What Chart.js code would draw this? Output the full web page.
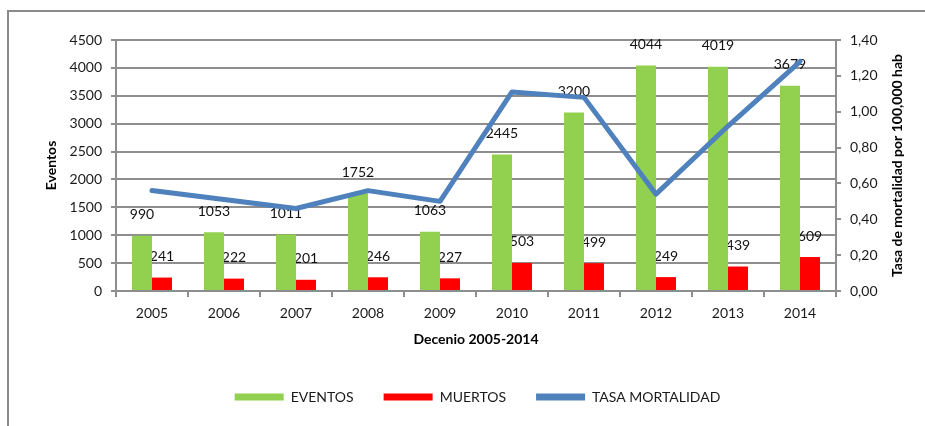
<!DOCTYPE html>
<html>
<head>
<meta charset="utf-8">
<script src="https://cdn.jsdelivr.net/npm/chart.js@4/dist/chart.umd.min.js"></script>
<style>
  html, body { margin: 0; padding: 0; background: #fff; }
  #wrap { position: relative; width: 925px; height: 426px; overflow: hidden; }
  #frame { position: absolute; left: 7px; top: 10px; width: 940px; height: 440px;
           border-left: 2px solid #8a8a8a; border-top: 2px solid #8a8a8a; }
  #chart { position: absolute; left: 0; top: 0; }
</style>
</head>
<body>
<div id="wrap">
  <div id="frame"></div>
  <canvas id="chart" width="925" height="426"></canvas>
</div>
<script>
const years = ['2005', '2006', '2007', '2008', '2009', '2010', '2011', '2012', '2013', '2014'];
const eventos = [990, 1053, 1011, 1752, 1063, 2445, 3200, 4044, 4019, 3679];
const muertos = [241, 222, 201, 246, 227, 503, 499, 249, 439, 609];
const tasa = [0.56, 0.51, 0.46, 0.56, 0.50, 1.11, 1.08, 0.54, 0.92, 1.28];

const GRID = '#8e8e8e';
Chart.defaults.font.family = 'Lato';
Chart.defaults.color = '#1a1a1a';

// value labels above the bars (drawn before the line so it passes over them)
const barLabels = {
    id: 'barLabels',
    afterDatasetDraw(chart, args) {
        const meta = args.meta;
        if (meta.type !== 'bar') return;
        const ctx = chart.ctx;
        const values = chart.data.datasets[args.index].data;
        ctx.save();
        ctx.font = '14px Lato';
        ctx.fillStyle = '#111';
        ctx.textAlign = 'center';
        ctx.textBaseline = 'middle';
        meta.data.forEach((bar, i) => {
            ctx.fillText(String(values[i]), bar.x, bar.y - 21);
        });
        ctx.restore();
    }
};

// right axis title reads bottom-to-top like the original
const rightTitle = {
    id: 'rightTitle',
    afterDraw(chart) {
        const ctx = chart.ctx;
        const area = chart.chartArea;
        ctx.save();
        ctx.translate(897, (area.top + area.bottom) / 2);
        ctx.rotate(-Math.PI / 2);
        ctx.font = 'bold 14px Lato';
        ctx.fillStyle = '#000';
        ctx.textAlign = 'center';
        ctx.textBaseline = 'middle';
        ctx.fillText('Tasa de mortalidad por 100,000 hab', 0, 0);
        ctx.restore();
    }
};

new Chart(document.getElementById('chart'), {
    type: 'bar',
    data: {
        labels: years,
        datasets: [{
            label: 'EVENTOS',
            data: eventos,
            backgroundColor: '#92d050',
            yAxisID: 'y',
            order: 1,
            categoryPercentage: 0.556,
            barPercentage: 1
        }, {
            label: 'MUERTOS',
            data: muertos,
            backgroundColor: '#ff0000',
            yAxisID: 'y',
            order: 1,
            categoryPercentage: 0.556,
            barPercentage: 1
        }, {
            type: 'line',
            label: 'TASA MORTALIDAD',
            data: tasa,
            borderColor: '#4f81bd',
            backgroundColor: '#4f81bd',
            borderWidth: 5,
            borderJoinStyle: 'round',
            borderCapStyle: 'round',
            pointRadius: 0,
            pointHoverRadius: 0,
            tension: 0,
            yAxisID: 'y1',
            order: 0
        }]
    },
    options: {
        responsive: false,
        animation: false,
        layout: { padding: { left: 30, right: 0, top: 40, bottom: 12 } },
        plugins: {
            tooltip: { enabled: false },
            legend: {
                position: 'bottom',
                labels: {
                    boxWidth: 49,
                    boxHeight: 7,
                    padding: 30,
                    font: { size: 14 },
                    color: '#1a1a1a',
                    sort: (a, b) => a.datasetIndex - b.datasetIndex,
                    generateLabels(chart) {
                        const items = Chart.defaults.plugins.legend.labels.generateLabels(chart);
                        items.forEach(it => { it.lineWidth = 0; });
                        return items;
                    }
                }
            }
        },
        scales: {
            x: {
                grid: { drawOnChartArea: false, drawTicks: true, tickLength: 6, color: GRID, lineWidth: 2 },
                border: { color: GRID, width: 2 },
                ticks: { font: { size: 14 }, padding: 8 },
                title: {
                    display: true,
                    text: 'Decenio 2005-2014',
                    font: { size: 14, weight: 'bold' },
                    color: '#000',
                    padding: { top: 0, bottom: 12 }
                },
                afterFit(scale) { scale.height = 69; }
            },
            y: {
                position: 'left',
                min: 0,
                max: 4500,
                ticks: { stepSize: 500, font: { size: 14 }, padding: 9, callback: v => String(v) },
                grid: { color: GRID, lineWidth: 2, tickLength: 5 },
                border: { color: GRID, width: 2 },
                title: {
                    display: true,
                    text: 'Eventos',
                    font: { size: 14, weight: 'bold' },
                    color: '#000',
                    padding: { top: 13, bottom: 0 }
                },
                afterFit(scale) { scale.width = 86; }
            },
            y1: {
                position: 'right',
                min: 0,
                max: 1.4,
                ticks: {
                    stepSize: 0.2,
                    font: { size: 14 },
                    padding: 9,
                    callback: v => v.toFixed(2).replace('.', ',')
                },
                grid: { drawOnChartArea: false, color: GRID, lineWidth: 2, tickLength: 5 },
                border: { color: GRID, width: 2 },
                afterFit(scale) { scale.width = 89; }
            }
        }
    },
    plugins: [barLabels, rightTitle]
});
</script>
</body>
</html>
